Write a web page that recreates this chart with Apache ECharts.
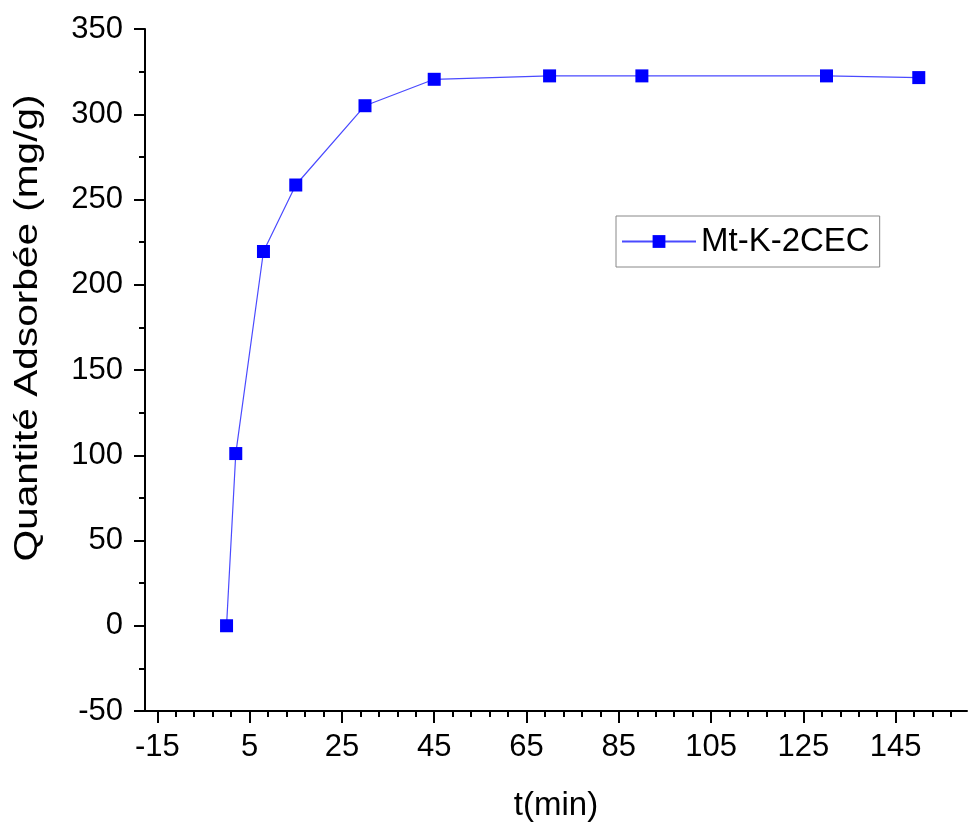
<!DOCTYPE html>
<html>
<head>
<meta charset="utf-8">
<script src="https://cdn.jsdelivr.net/npm/echarts@6/dist/echarts.min.js"></script>
<style>html,body{margin:0;padding:0;background:#fff;}#c{width:968px;height:825px;}</style>
</head>
<body>
<div id="c"></div>
<script>
const seriesName = 'Mt-K-2CEC';
const timeMin = [0, 2, 8, 15, 30, 45, 70, 90, 130, 150];
const qAds = [0, 101, 219.5, 258.5, 305, 320.5, 322.5, 322.5, 322.5, 321.5];
const xMajorTicks = [-15, 5, 25, 45, 65, 85, 105, 125, 145];
const xMinorTicks = [-11, -7, -3, 1, 9, 13, 17, 21, 29, 33, 37, 41, 49, 53, 57, 61, 69, 73, 77, 81, 89, 93, 97, 101, 109, 113, 117, 121, 129, 133, 137, 141, 149, 153, 157];
const yMin = -50, yMax = 350, yStep = 50;
const xTitle = 't(min)';
const yTitle = 'Quantité Adsorbée (mg/g)';

const FONT = '"Liberation Sans", Arial, sans-serif';
const chart = echarts.init(document.getElementById('c'), null, {renderer: 'canvas'});
const xMin = -17.67, xMax = 160.45;
chart.setOption({
  animation: false,
  backgroundColor: '#ffffff',
  grid: {left: 145, right: 1, top: 29, bottom: 114, containLabel: false, outerBoundsMode: 'none'},
  xAxis: [{
    type: 'value', min: xMin, max: xMax, position: 'bottom',
    name: xTitle, nameLocation: 'middle', nameGap: 78,
    nameTextStyle: {fontFamily: FONT, fontSize: 33, color: '#000'},
    axisLine: {show: true, onZero: false, lineStyle: {color: '#000', width: 2}},
    axisTick: {show: true, customValues: xMajorTicks, length: 12, lineStyle: {color: '#000', width: 2}},
    axisLabel: {show: true, customValues: xMajorTicks, margin: 21, fontFamily: FONT, fontSize: 31, color: '#000'},
    splitLine: {show: false}
  }, {
    type: 'value', min: xMin, max: xMax, position: 'bottom',
    axisLine: {show: false, onZero: false},
    axisTick: {show: true, customValues: xMinorTicks, length: 6, lineStyle: {color: '#000', width: 2}},
    axisLabel: {show: false},
    splitLine: {show: false}
  }],
  yAxis: {
    type: 'value', min: yMin, max: yMax, interval: yStep,
    axisLine: {show: true, onZero: false, lineStyle: {color: '#000', width: 2}},
    axisTick: {show: true, length: 11, lineStyle: {color: '#000', width: 2}},
    minorTick: {show: true, splitNumber: 2, length: 6, lineStyle: {color: '#000', width: 2}},
    axisLabel: {margin: 22, fontFamily: FONT, fontSize: 31, color: '#000'},
    splitLine: {show: false}
  },
  legend: {
    left: 616, top: 216,
    orient: 'horizontal',
    itemWidth: 74, itemHeight: 16,
    padding: [8, 10, 8, 5],
    borderColor: '#888', borderWidth: 1,
    backgroundColor: '#fff',
    textStyle: {fontFamily: FONT, fontSize: 33, color: '#000', lineHeight: 35},
    data: [seriesName]
  },
  graphic: [{
    type: 'text', x: 28, y: 328, rotation: Math.PI / 2, scaleX: 1.23,
    style: {text: yTitle, font: '33px ' + FONT, fill: '#000', align: 'center', verticalAlign: 'middle'}
  }],
  series: [{
    name: seriesName, type: 'line',
    data: timeMin.map((t, i) => [t, qAds[i]]),
    symbol: 'rect', symbolSize: 13,
    itemStyle: {color: '#0000ff'},
    lineStyle: {color: '#4a4aff', width: 1.2}
  }]
});
</script>
</body>
</html>
